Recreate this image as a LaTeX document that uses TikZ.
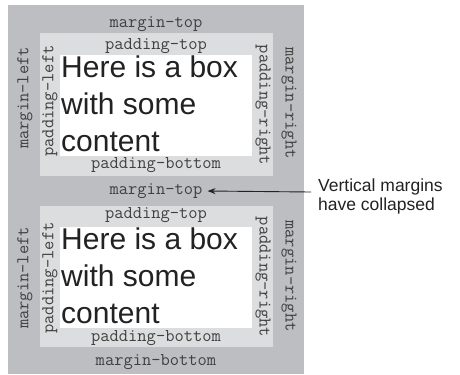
\documentclass[tikz,border=0pt]{standalone}
\usepackage{fontspec}
\setmainfont{Liberation Sans}
\usetikzlibrary{arrows.meta}
\definecolor{margingray}{HTML}{BDBEC1}
\definecolor{padgray}{HTML}{DCDDDF}
\definecolor{labtext}{HTML}{404040}
\definecolor{bigtext}{HTML}{222222}
\tikzset{
  lab/.style={font=\ttfamily\fontsize{18bp}{18bp}\selectfont, text=labtext, inner sep=0pt},
  big/.style={font=\fontsize{30bp}{36bp}\selectfont, text=bigtext, inner sep=0pt, anchor=base west},
  note/.style={font=\fontsize{17.5bp}{21bp}\selectfont, text=bigtext, inner sep=0pt, anchor=base west},
}
\begin{document}
\begin{tikzpicture}[x=1bp,y=-1bp]
\useasboundingbox[fill=white] (0,0) rectangle (460,374);
% outer margin area
\fill[margingray] (8,5) rectangle (304,374);
% box 1
\fill[padgray] (40,33) rectangle (273,176);
\fill[white] (60,55) rectangle (252,156);
% box 2
\fill[padgray] (40,206) rectangle (273,347);
\fill[white] (60,227) rectangle (252,328);

% labels box 1
\node[lab] (mt1) at (156,24) {margin-top};
\node[lab] (pt1) at (156,46) {padding-top};
\node[lab] (pb1) at (156,165) {padding-bottom};
\node[lab, rotate=90] (ml1) at (25,98) {margin-left};
\node[lab, rotate=90] (pl1) at (50,101) {padding-left};
\node[lab, rotate=-90] (pr1) at (263,105) {padding-right};
\node[lab, rotate=-90] (mr1) at (289,103) {margin-right};
\node[big] (c1a) at (61,77) {Here is a box};
\node[big] (c1b) at (61,114) {with some};
\node[big] (c1c) at (61,151) {content};

% middle
\node[lab] (mt2) at (156,191) {margin-top};

% labels box 2
\node[lab] (pt2) at (156,215) {padding-top};
\node[lab] (pb2) at (156,338) {padding-bottom};
\node[lab] (mb2) at (156,362) {margin-bottom};
\node[lab, rotate=90] (ml2) at (25,278) {margin-left};
\node[lab, rotate=90] (pl2) at (50,278) {padding-left};
\node[lab, rotate=-90] (pr2) at (263,277) {padding-right};
\node[lab, rotate=-90] (mr2) at (289,276) {margin-right};
\node[big] (c2a) at (61,249) {Here is a box};
\node[big] (c2b) at (61,286) {with some};
\node[big] (c2c) at (61,323) {content};

% note and arrow
\node[note] (n1) at (318,191) {Vertical margins};
\node[note] (n2) at (318,210) {have collapsed};
\coordinate (arrstart) at (311,192);
\draw[bigtext, line width=0.9bp, -{Stealth[length=8bp,width=6bp]}] (arrstart) -- ([xshift=5bp]mt2.east);
\end{tikzpicture}
\end{document}
